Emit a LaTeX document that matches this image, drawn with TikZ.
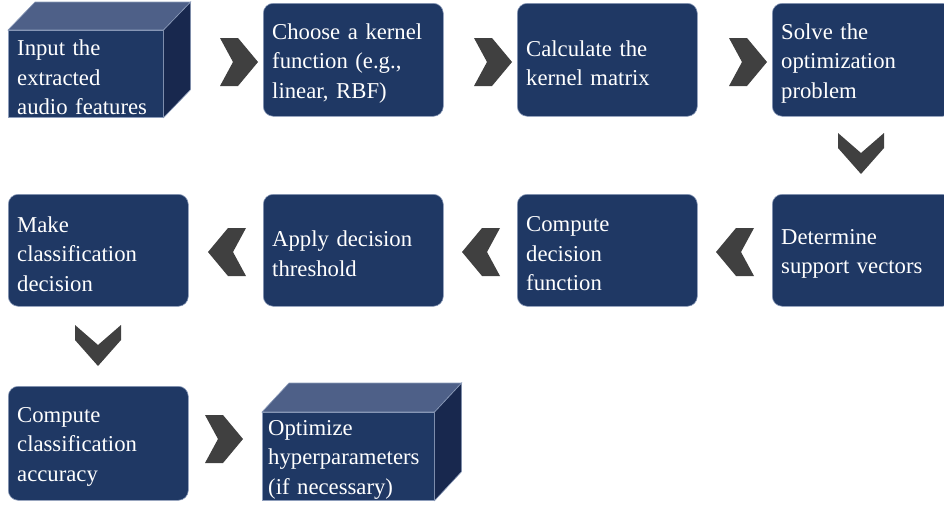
\documentclass[tikz,border=0pt]{standalone}
\usepackage{fontspec}
\setmainfont{Liberation Serif}
\definecolor{boxblue}{RGB}{31,56,100}
\definecolor{topblue}{RGB}{78,96,136}
\definecolor{sideblue}{RGB}{24,40,78}
\definecolor{edgeblue}{RGB}{140,156,186}
\definecolor{chevgray}{RGB}{64,64,64}
\tikzset{
  stepbox/.style={draw=edgeblue, line width=0.6pt, fill=boxblue, rounded corners=10pt,
    anchor=north west, minimum width=180pt, inner sep=0pt},
  cubeface/.style={draw=edgeblue, line width=0.6pt, fill=boxblue, anchor=north west, inner sep=0pt},
  steptext/.style={align=left, text=white, inner sep=0pt, font=\fontsize{22.7}{29.5}\selectfont},
  cubetop/.style={draw=edgeblue, line width=0.6pt, fill=topblue},
  cubeside/.style={draw=edgeblue, line width=0.6pt, fill=sideblue},
  chev/.style={fill=chevgray},
  chevR/.pic={\fill[chev] (0,0) -- (18,0) -- (38,24) -- (18,48) -- (0,48) -- (13,24) -- cycle;},
  chevL/.pic={\fill[chev] (38,0) -- (20,0) -- (0,24) -- (20,48) -- (38,48) -- (25,24) -- cycle;},
  chevD/.pic={\fill[chev] (0,0) -- (23,20) -- (46,0) -- (46,15) -- (23,41) -- (0,15) -- cycle;},
}
\newcommand{\steplabel}[3]{% name, inset, text
  \node[steptext, text width=168pt, anchor=west] (#1t) at ([xshift=#2pt,yshift=-3.5pt]#1.west) {#3};}
\begin{document}
\begin{tikzpicture}[x=1pt,y=-1pt]
\useasboundingbox (0,0) rectangle (944,504);
\clip (0,0) rectangle (944,504);
\fill[white] (0,0) rectangle (944,504);

% Row 1
\node[cubeface, minimum width=155pt, minimum height=87pt] (a1) at (8,30) {};
\draw[cubetop] (a1.north west) -- ++(27,-28) -- ([xshift=27pt,yshift=28pt]a1.north east) -- (a1.north east) -- cycle;
\draw[cubeside] (a1.north east) -- ++(27,-28) -- ([xshift=27pt,yshift=28pt]a1.south east) -- (a1.south east) -- cycle;
\steplabel{a1}{9}{Input the\\extracted\\audio features}

\node[stepbox, minimum height=113pt] (a2) at (263,3) {};
\steplabel{a2}{9}{Choose a kernel\\function (e.g.,\\linear, RBF)}
\node[stepbox, minimum height=113pt] (a3) at (517,3) {};
\steplabel{a3}{9}{Calculate the\\kernel matrix}
\node[stepbox, minimum height=113pt] (a4) at (772,3) {};
\steplabel{a4}{9}{Solve the\\optimization\\problem}

\pic at (220,38) {chevR};
\pic at (474,38) {chevR};
\pic at (729,38) {chevR};
\pic at (838,133) {chevD};

% Row 2
\node[stepbox, minimum height=112pt] (b4) at (772,194) {};
\steplabel{b4}{9}{Determine\\support vectors}
\node[stepbox, minimum height=112pt] (b3) at (517,194) {};
\steplabel{b3}{9}{Compute\\decision\\function}
\node[stepbox, minimum height=112pt] (b2) at (263,194) {};
\steplabel{b2}{9}{Apply decision\\threshold}
\node[stepbox, minimum height=112pt] (b1) at (8,194) {};
\steplabel{b1}{9}{Make\\classification\\decision}

\pic at (716,228) {chevL};
\pic at (462,228) {chevL};
\pic at (208,228) {chevL};
\pic at (75,325) {chevD};

% Row 3
\node[stepbox, minimum height=114pt] (c1) at (8,386) {};
\steplabel{c1}{9}{Compute\\classification\\accuracy}
\pic at (205,415) {chevR};
\node[cubeface, minimum width=172pt, minimum height=88pt] (c2) at (262,412) {};
\draw[cubetop] (c2.north west) -- ++(27,-29) -- ([xshift=27pt,yshift=29pt]c2.north east) -- (c2.north east) -- cycle;
\draw[cubeside] (c2.north east) -- ++(27,-29) -- ([xshift=27pt,yshift=29pt]c2.south east) -- (c2.south east) -- cycle;
\steplabel{c2}{6}{Optimize\\hyperparameters\\(if necessary)}
\end{tikzpicture}
\end{document}
